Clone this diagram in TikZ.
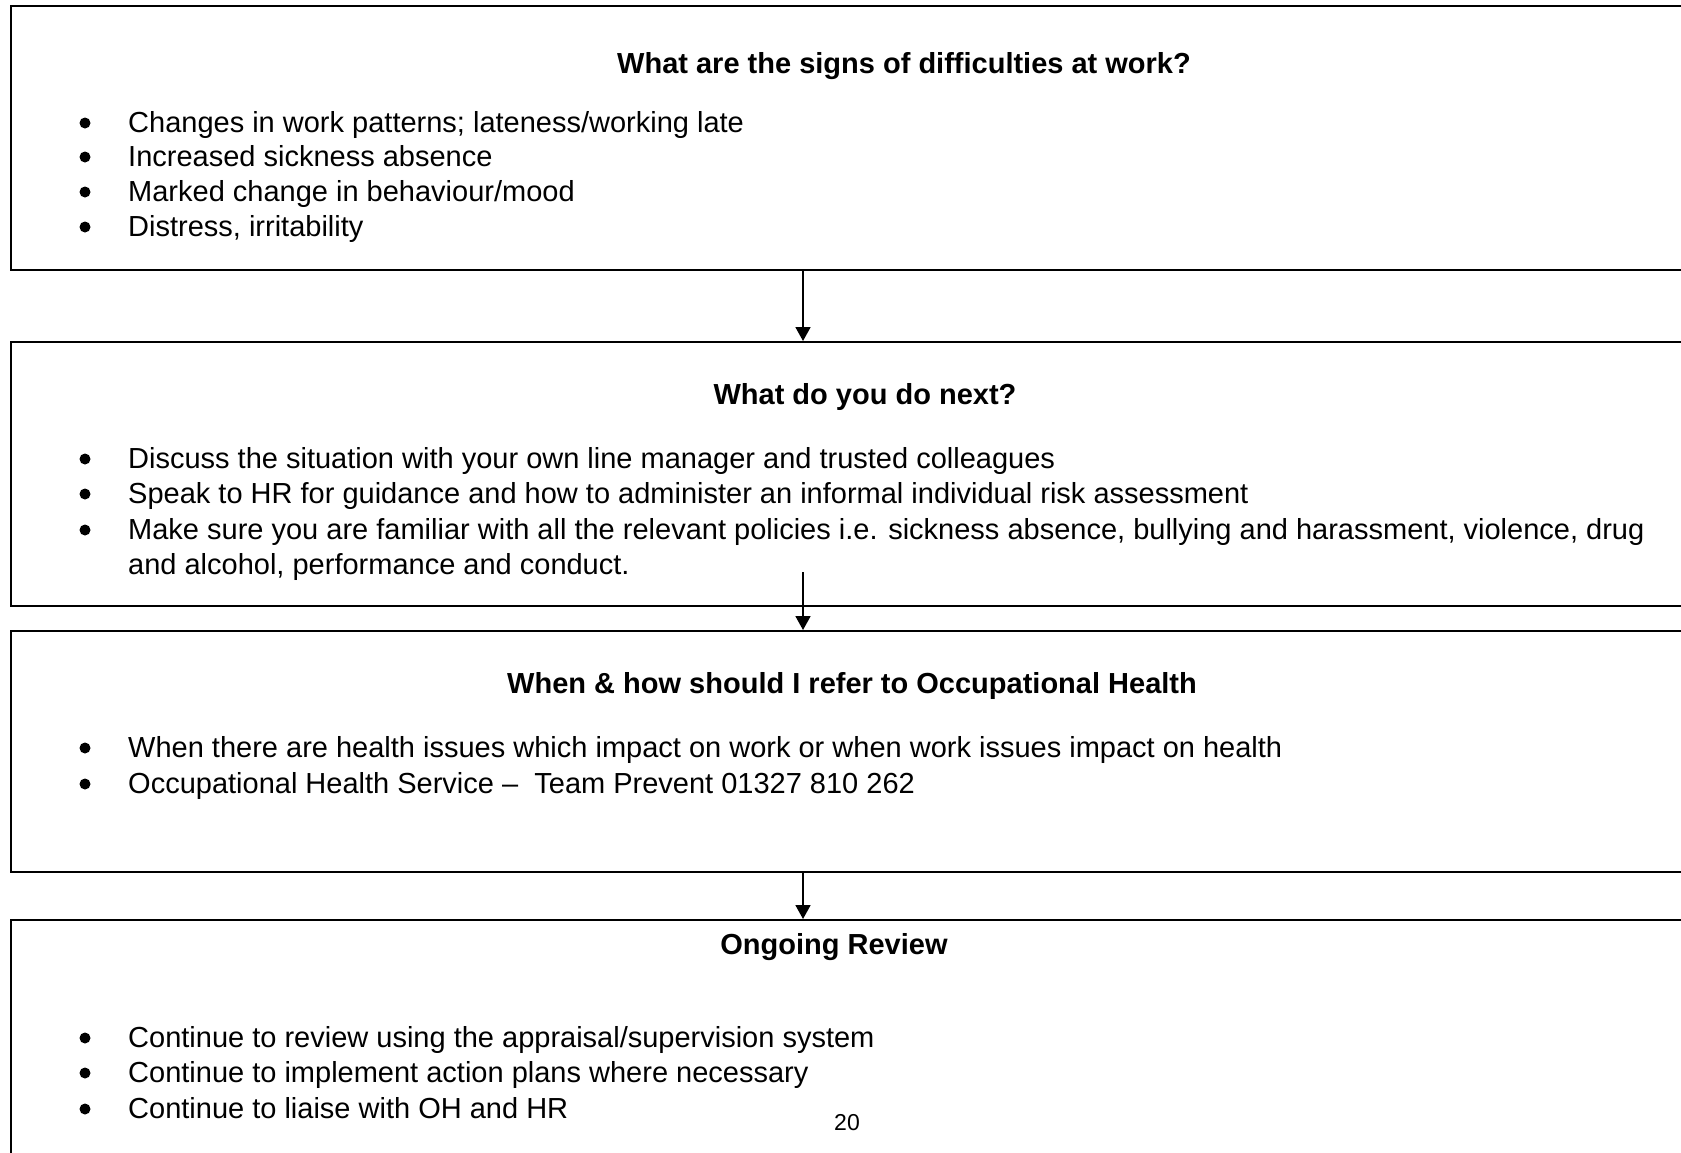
\documentclass[tikz,border=0pt]{standalone}
\usepackage{fontspec}
\setmainfont{Liberation Sans}
\usetikzlibrary{arrows.meta}

\begin{document}
\begin{tikzpicture}[x=1pt,y=-1pt,
    box/.style={draw,line width=2.2pt,anchor=north west,minimum width=1788pt,inner sep=0pt},
    head/.style={anchor=base,inner sep=0pt,font=\fontsize{29}{35}\selectfont\bfseries},
    item/.style={anchor=base west,inner sep=0pt,font=\fontsize{29}{35}\selectfont},
    dot/.style={circle,fill,inner sep=0pt,minimum size=11pt,yshift=9pt},
    flow/.style={-{Triangle[width=15pt,length=14pt]},line width=1.8pt}]
    \useasboundingbox[fill=white] (0,0) rectangle (1681,1152);
    % the four boxes
    \node[box,minimum height=264pt] (signs) at (10,5) {};
    \node[box,minimum height=264pt] (next) at (10,341) {};
    \node[box,minimum height=241pt] (refer) at (10,630) {};
    \node[box,minimum height=280pt] (review) at (10,919) {};
    % arrows
    \coordinate (axis) at (803,0);
    \coordinate (start2) at (803,572);
    \draw[flow] (signs.south -| axis) to (next.north -| axis);
    \draw[flow] (start2) to (refer.north -| start2);
    \draw[flow] (refer.south -| axis) to (review.north -| axis);
    % signs
    \node[head] (signshead) at (904,73) {What are the signs of difficulties at work?};
    \node[dot] (signsdot1) at (85,132) {};
    \node[item] (signs1) at (128,132) {Changes in work patterns; lateness/working late};
    \node[dot] (signsdot2) at (85,166) {};
    \node[item] (signs2) at (128,166) {Increased sickness absence};
    \node[dot] (signsdot3) at (85,201) {};
    \node[item] (signs3) at (128,201) {Marked change in behaviour/mood};
    \node[dot] (signsdot4) at (85,236) {};
    \node[item] (signs4) at (128,236) {Distress, irritability};
    % next
    \node[head] (nexthead) at (865,404) {What do you do next?};
    \node[dot] (nextdot1) at (85,468) {};
    \node[item] (next1) at (128,468) {Discuss the situation with your own line manager and trusted colleagues};
    \node[dot] (nextdot2) at (85,503) {};
    \node[item] (next2) at (128,503) {Speak to HR for guidance and how to administer an informal individual risk assessment};
    \node[dot] (nextdot3) at (85,539) {};
    \node[item] (next3) at (128,539) {Make sure you are familiar with all the relevant policies i.e. sickness absence, bullying and harassment, violence, drug};
    \node[item] (next4) at (128,574) {and alcohol, performance and conduct.};
    % refer
    \node[head] (referhead) at (852,693) {When \& how should I refer to Occupational Health};
    \node[dot] (referdot1) at (85,757) {};
    \node[item] (refer1) at (128,757) {When there are health issues which impact on work or when work issues impact on health};
    \node[dot] (referdot2) at (85,793) {};
    \node[item] (refer2) at (128,793) {Occupational Health Service –\ \ Team Prevent 01327 810 262};
    % review
    \node[head] (reviewhead) at (834,954) {Ongoing Review};
    \node[dot] (reviewdot1) at (85,1047) {};
    \node[item] (review1) at (128,1047) {Continue to review using the appraisal/supervision system};
    \node[dot] (reviewdot2) at (85,1082) {};
    \node[item] (review2) at (128,1082) {Continue to implement action plans where necessary};
    \node[dot] (reviewdot3) at (85,1118) {};
    \node[item] (review3) at (128,1118) {Continue to liaise with OH and HR};
    \node[anchor=base,inner sep=0pt,font=\fontsize{23}{28}\selectfont] (page) at (847,1130) {20};
\end{tikzpicture}
\end{document}
